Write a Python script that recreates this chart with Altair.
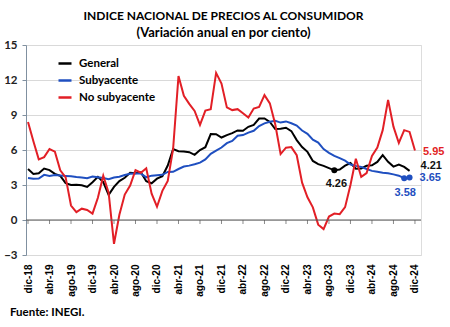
import altair as alt
import pandas as pd

# ---------------- data ----------------
mes_abrev = ["ene", "feb", "mar", "abr", "may", "jun", "jul", "ago", "sep", "oct", "nov", "dic"]
anios = ["19", "20", "21", "22", "23", "24"]
meses = ["dic-18"] + [f"{m}-{a}" for a in anios for m in mes_abrev]   # 73 categories
tick_labels = meses[::4]

general = [4.37, 3.94, 4.00, 4.41, 4.28, 3.95, 3.78, 3.16, 3.00, 3.02, 2.97, 2.83,
           3.24, 3.70, 3.25, 2.15, 2.84, 3.33, 3.62, 4.05, 4.01, 4.09, 3.33, 3.15,
           3.54, 3.76, 4.67, 6.08, 5.89, 5.88, 5.81, 5.59, 6.00, 6.24, 7.37, 7.36,
           7.07, 7.28, 7.45, 7.68, 7.65, 7.99, 8.15, 8.70, 8.70, 8.41, 7.80, 7.82,
           7.91, 7.62, 6.85, 6.25, 5.84, 5.06, 4.79, 4.64, 4.45, 4.26, 4.32, 4.66,
           4.88, 4.40, 4.42, 4.65, 4.69, 4.98, 5.57, 4.99, 4.58, 4.76, 4.55, 4.21]

subyacente = [3.60, 3.54, 3.55, 3.87, 3.77, 3.85, 3.82, 3.78, 3.75, 3.68, 3.65, 3.59,
              3.73, 3.66, 3.60, 3.50, 3.64, 3.71, 3.85, 3.97, 3.99, 3.98, 3.66, 3.80,
              3.84, 3.87, 4.12, 4.13, 4.37, 4.58, 4.66, 4.78, 4.92, 5.19, 5.67, 5.94,
              6.21, 6.59, 6.78, 7.22, 7.28, 7.49, 7.65, 8.05, 8.28, 8.42, 8.51, 8.35,
              8.45, 8.29, 8.09, 7.67, 7.39, 6.89, 6.64, 6.08, 5.76, 5.50, 5.30, 5.09,
              4.76, 4.64, 4.55, 4.37, 4.21, 4.13, 4.05, 4.00, 3.91, 3.80, 3.58, 3.65]

no_subyacente = [8.40,
                 6.75, 5.20, 5.39, 6.08, 5.86, 4.26, 3.66, 1.24, 0.68, 0.97, 0.86, 0.55,
                 1.90, 3.80, 2.35, -2.04, 0.45, 2.18, 2.95, 4.28, 4.05, 4.43, 2.25, 1.14,
                 2.50, 3.35, 6.10, 12.34, 10.65, 9.95, 9.35, 8.15, 9.38, 9.50, 12.61, 11.70,
                 9.65, 9.42, 9.50, 9.15, 8.78, 9.55, 9.70, 10.70, 10.00, 8.20, 5.65, 6.20,
                 6.25, 5.55, 3.20, 1.95, 1.08, -0.40, -0.78, 0.30, 0.55, 0.50, 1.10, 3.00,
                 5.25, 3.70, 4.02, 5.50, 6.20, 7.70, 10.30, 8.00, 6.60, 7.70, 7.55, 5.95]

series_names = ["General", "Subyacente", "No subyacente"]
series_colors = ["#000000", "#1f4fc0", "#e21f26"]
y_ticks = [-3, 0, 3, 6, 9, 12, 15]

rows = []
for name, vals in zip(series_names, [general, subyacente, no_subyacente]):
    for m, v in zip(meses, vals):
        rows.append({"mes": m, "serie": name, "valor": v})
df = pd.DataFrame(rows)

# highlighted points / labels
pt_general = pd.DataFrame({"mes": [meses[57]], "serie": ["General"], "valor": [general[57]]})
pt_sub = pd.DataFrame({"mes": meses[70:72], "serie": ["Subyacente"] * 2, "valor": subyacente[70:72]})

lbl = lambda m, s, v: pd.DataFrame({"mes": [m], "serie": [s], "valor": [v], "txt": [f"{v:.2f}"]})

# ---------------- chart ----------------
FONT = "Lato"
xscale = alt.Scale(type="point", domain=meses, padding=0.75, align=0.25)
yscale = alt.Scale(domain=[-3, 15], nice=False, zero=False)
color = alt.Color("serie:N",
                  scale=alt.Scale(domain=series_names, range=series_colors),
                  legend=alt.Legend(title=None, orient="none", legendX=31, legendY=10.5,
                                    symbolType="stroke", symbolSize=169, symbolStrokeWidth=2.5,
                                    labelFont=FONT, labelFontSize=11.5, labelFontWeight="bold",
                                    labelColor="#000", rowPadding=3, labelOffset=6, padding=0))

x_axis = alt.Axis(values=tick_labels, labelAngle=-90, ticks=False, domain=False, grid=False,
                  title=None, labelPadding=9, labelFont="Liberation Sans", labelFontSize=10,
                  labelFontWeight="bold", labelColor="#000", labelOverlap=False)
y_axis = alt.Axis(values=y_ticks, title=None, grid=True, gridColor="#d9d9d9",
                  domain=True, domainColor="#8090a0", ticks=True, tickSize=4,
                  tickColor="#8090a0", labelPadding=5, labelFont=FONT, labelFontSize=11.5,
                  labelFontWeight="bold", labelColor="#222", labelOverlap=False)
X = alt.X("mes:N", scale=xscale, sort=meses, axis=x_axis)
Y = alt.Y("valor:Q", scale=yscale, axis=y_axis)

base = alt.Chart(df)
lines = [base.transform_filter(alt.datum.serie == s).mark_line(strokeWidth=2)
         .encode(x=X, y=Y, color=color) for s in series_names]

zero = alt.Chart(pd.DataFrame({"valor": [0]})).mark_rule(color="#595959", strokeWidth=1).encode(y=Y)
ticks = alt.Chart(pd.DataFrame({"mes": tick_labels, "valor": [0] * len(tick_labels)})).mark_tick(
    orient="vertical", size=4, yOffset=2, thickness=1, color="#595959").encode(x=X, y=Y)

pts_g = alt.Chart(pt_general).mark_circle(size=36, opacity=1, color="#000").encode(x=X, y=Y)
pts_s = alt.Chart(pt_sub).mark_circle(size=36, opacity=1, color="#1f4fc0").encode(x=X, y=Y)


def label(dfl, col, dx, dy, align):
    return alt.Chart(dfl).mark_text(font="Liberation Sans", fontSize=11, fontWeight="bold",
                                    color=col, dx=dx, dy=dy, align=align, baseline="middle").encode(
        x=X, y=Y, text="txt:N")


labels = [
    label(lbl(meses[72], "No subyacente", no_subyacente[72]), "#e21f26", 8, 1, "left"),
    label(lbl(meses[71], "General", general[71]), "#111", 11, -5, "left"),
    label(lbl(meses[71], "Subyacente", subyacente[71]), "#1f4fc0", 10, 1, "left"),
    label(lbl(meses[70], "Subyacente", subyacente[70]), "#1f4fc0", 1, 15, "center"),
    label(lbl(meses[57], "General", general[57]), "#111", 2, 14, "center"),
]

source = alt.Chart(pd.DataFrame({"t": ["Fuente: INEGI."]})).mark_text(
    font=FONT, fontSize=11.5, fontWeight="bold", color="#000", align="left", baseline="middle").encode(
    x=alt.value(-16), y=alt.value(268), text="t:N")

chart = alt.layer(*lines, zero, ticks, pts_g, pts_s, *labels, source).properties(
    width=395, height=210,
    title=alt.TitleParams(text="INDICE NACIONAL DE PRECIOS AL CONSUMIDOR",
                          subtitle="(Variación anual en por ciento)",
                          font=FONT, fontSize=12, fontWeight="bold", color="#000",
                          subtitleFont=FONT, subtitleFontSize=13, subtitleFontWeight="bold",
                          subtitleColor="#000", subtitlePadding=4, anchor="middle", offset=-2),
    autosize=alt.AutoSizeParams(type="none"),
    padding={"left": 26, "top": 45, "right": 29, "bottom": 72},
).configure_view(stroke=None).configure(background="white")

chart.save("out.html", embed_options={"renderer": "svg", "actions": False})
